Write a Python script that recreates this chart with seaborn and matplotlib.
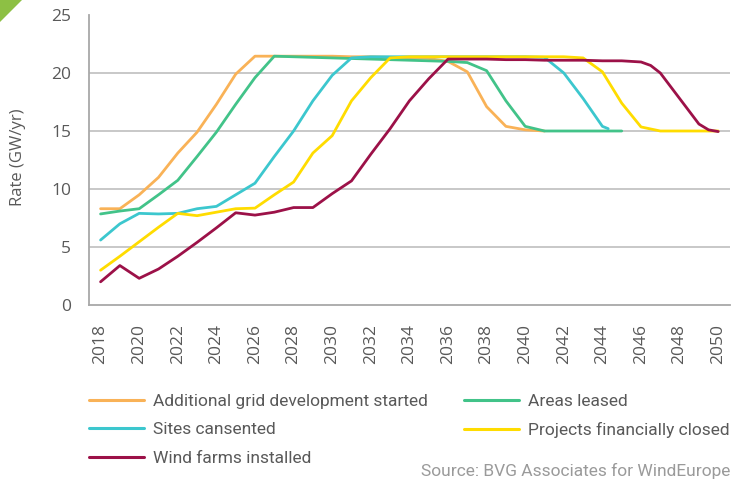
import matplotlib
matplotlib.use("Agg")
import matplotlib.pyplot as plt
import seaborn as sns
import pandas as pd
from matplotlib.lines import Line2D
from matplotlib.patches import Polygon

# ---------------- data ----------------
series_names = [
    "Additional grid development started",
    "Areas leased",
    "Sites cansented",
    "Projects financially closed",
    "Wind farms installed",
]

grid_years = list(range(2018, 2042))
grid_vals = [8.3, 8.3, 9.5, 11.0, 13.1, 14.9, 17.3, 19.9, 21.45, 21.45, 21.45, 21.45,
             21.45, 21.4, 21.4, 21.35, 21.3, 21.25, 21.0, 20.1, 17.1, 15.4, 15.1, 15.0]

leased_years = list(range(2018, 2046))
leased_vals = [7.85, 8.1, 8.3, 9.5, 10.75, 12.8, 14.9, 17.3, 19.6, 21.45,
               21.4, 21.35, 21.3, 21.25, 21.2, 21.15, 21.1, 21.05, 21.0, 20.9,
               20.2, 17.6, 15.4, 15.0, 15.0, 15.0, 15.0, 15.0]

consent_years = list(range(2018, 2045)) + [2044.3]
consent_vals = [5.6, 7.0, 7.9, 7.85, 7.9, 8.3, 8.5, 9.5, 10.5, 12.8, 15.0, 17.6, 19.8, 21.3,
                21.4, 21.4, 21.4, 21.4, 21.4, 21.4, 21.4, 21.4, 21.4,
                21.35, 20.0, 17.8, 15.4, 15.2]

closed_years = list(range(2018, 2051))
closed_vals = [3.0, 4.2, 5.45, 6.7, 7.9, 7.7, 8.0, 8.3, 8.35, 9.5, 10.6, 13.1, 14.6, 17.6,
               19.6, 21.3, 21.4, 21.4, 21.4, 21.4, 21.4, 21.4, 21.4, 21.4, 21.4,
               21.3, 20.1, 17.4, 15.35, 15.0, 15.0, 15.0, 15.0]

installed_years = list(range(2018, 2047)) + [2046.5, 2047, 2048, 2049, 2049.5, 2050]
installed_vals = [2.0, 3.4, 2.3, 3.1, 4.2, 5.4, 6.65, 7.95, 7.75, 8.0, 8.4, 8.4, 9.6, 10.7,
                  13.0, 15.2, 17.6, 19.5, 21.2, 21.2, 21.2, 21.15, 21.15, 21.1, 21.1,
                  21.1, 21.05, 21.05, 20.95, 20.65, 20.0, 17.8, 15.6, 15.1, 14.95]

x_tick_labels = [str(y) for y in range(2018, 2051, 2)]
y_ticks = [0, 5, 10, 15, 20, 25]

colors = {
    "Additional grid development started": "#F9B257",
    "Areas leased": "#42C389",
    "Sites cansented": "#3CC7CE",
    "Projects financially closed": "#FFDC00",
    "Wind farms installed": "#9C1148",
}

frames = []
for name, yrs, vals in zip(series_names,
                           [grid_years, leased_years, consent_years, closed_years, installed_years],
                           [grid_vals, leased_vals, consent_vals, closed_vals, installed_vals]):
    frames.append(pd.DataFrame({"year": yrs, "value": vals, "series": name}))
df = pd.concat(frames, ignore_index=True)

# ---------------- figure ----------------
sns.set_style("white")
plt.rcParams["font.family"] = ["Open Sans", "DejaVu Sans"]

W, H = 731, 486
fig = plt.figure(figsize=(W / 100, H / 100), dpi=100)
ax = fig.add_axes([89 / W, (H - 305) / H, 641 / W, 290 / H])

sns.lineplot(data=df, x="year", y="value", hue="series", hue_order=series_names,
             palette=colors, estimator=None, sort=False, linewidth=2.0,
             legend=False, ax=ax)

ax.set_xlim(2017.4, 2050.61)
ax.set_ylim(0, 25)
ax.set_xlabel("")
ax.set_ylabel("")

# grid lines
for v in [5, 10, 15, 20]:
    ax.axhline(v, color="#c4c4c4", lw=1.3, zorder=0)

for s in ["top", "right"]:
    ax.spines[s].set_visible(False)
for s in ["left", "bottom"]:
    ax.spines[s].set_color("#a8a8a8")
    ax.spines[s].set_linewidth(1.3)

ax.set_yticks(y_ticks)
ax.set_yticklabels([str(v) for v in y_ticks])
ax.tick_params(axis="y", length=0, pad=13, labelsize=12.5, labelcolor="#595959")

ax.set_xticks([int(t) for t in x_tick_labels])
ax.set_xticklabels(x_tick_labels, rotation=90)
ax.tick_params(axis="x", which="major", length=0, pad=14, labelsize=12.5, labelcolor="#595959")
ax.set_xticks([y + 0.5 for y in range(2017, 2050)], minor=True)
ax.tick_params(axis="x", which="minor", length=5, width=1.2, color="#a8a8a8", direction="out")

fig.text(18 / W, (H - 157) / H, "Rate (GW/yr)", rotation=90, ha="center", va="center",
         fontsize=12, color="#595959")

# legends (two columns placed explicitly)
leg_font = {"family": ["Roboto", "DejaVu Sans"], "size": 12.5}
def handles_for(names):
    return [Line2D([0], [0], color=colors[n], lw=2.2) for n in names]

col1 = [series_names[0], series_names[2], series_names[4]]
col2 = [series_names[1], series_names[3]]
for names, x0 in [(col1, 89), (col2, 464)]:
    fig.legend(handles_for(names), names, loc="upper left",
               bbox_to_anchor=(x0 / W, (H - 393.5) / H), frameon=False,
               prop=leg_font, handlelength=3.15, handletextpad=0.55,
               labelspacing=0.77, borderpad=0, borderaxespad=0, labelcolor="#595959")

fig.text(730 / W, (H - 471) / H, "Source: BVG Associates for WindEurope", ha="right",
         va="center", fontsize=12.5, color="#9a9a9a", family=["Roboto", "DejaVu Sans"])

# corner triangle
tri = Polygon([(0, 1), (22 / W, 1), (0, 1 - 22 / H)], closed=True,
              transform=fig.transFigure, facecolor="#8DC044", edgecolor="none")
fig.patches.append(tri)

fig.savefig("out.png", dpi=100)
